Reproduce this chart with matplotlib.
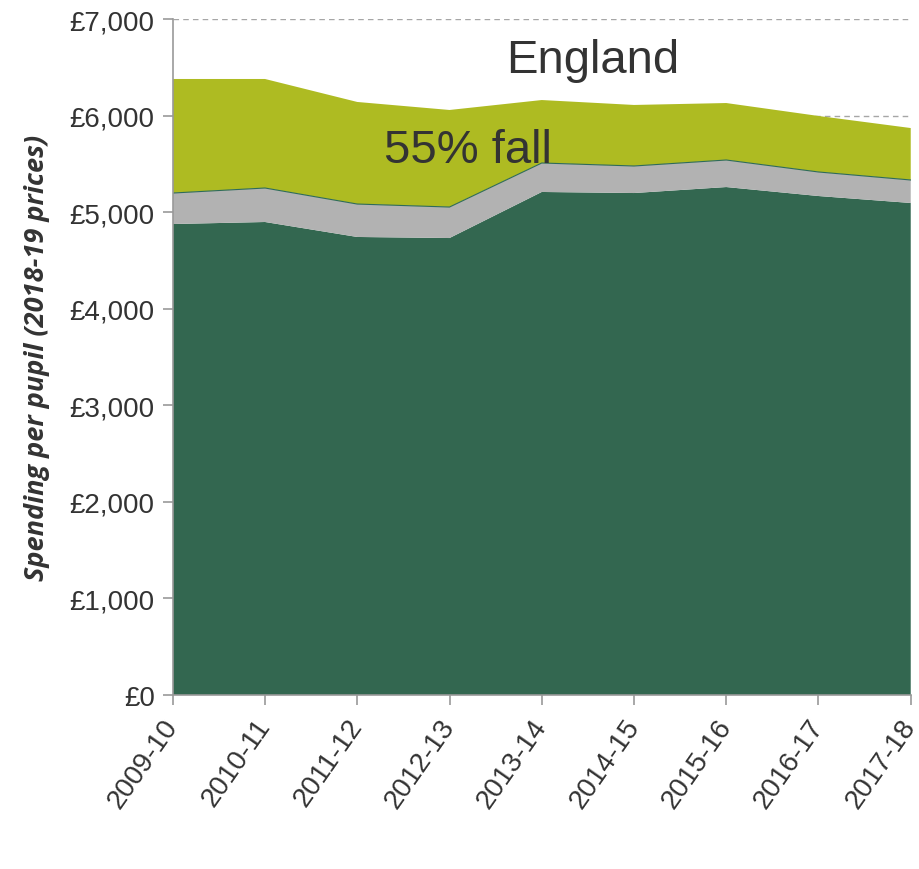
import matplotlib
matplotlib.use("Agg")
import matplotlib.pyplot as plt
import numpy as np

years = ["2009-10", "2010-11", "2011-12", "2012-13", "2013-14",
         "2014-15", "2015-16", "2016-17", "2017-18"]
core = [4877, 4898, 4743, 4732, 5209, 5198, 5260, 5167, 5095]
middle = [321, 352, 341, 321, 300, 280, 280, 249, 238]
upper = [1181, 1129, 1057, 1005, 652, 632, 590, 580, 538]

c_core = "#336750"
c_mid = "#B2B2B2"
c_up = "#AEBB22"
txt = "#333333"

plt.rcParams['font.family'] = ['Liberation Sans', 'DejaVu Sans']

fig = plt.figure(figsize=(9.19, 8.70), dpi=100)
ax = fig.add_axes([0.188, 0.2, 0.803, 0.777])

x = np.arange(len(years))
ax.set_axisbelow(True)
ax.yaxis.grid(True, linestyle=(0, (4, 3)), color="#A6A6A6", linewidth=1.0)
ax.stackplot(x, core, middle, upper, colors=[c_core, c_mid, c_up], linewidth=0)
mid_top = np.array(core) + np.array(middle)
ax.plot(x, mid_top, color="#2E6B5A", linewidth=0.8)

ax.set_xlim(0, len(years) - 1)
ax.set_ylim(0, 7000)
ax.set_yticks(range(0, 7001, 1000))
ax.set_yticklabels([f"£{v:,}" for v in range(0, 7001, 1000)])
ax.set_xticks(x)
ax.set_xticklabels(years, rotation=55, ha="right", va="center", rotation_mode="anchor")

for s in ["top", "right"]:
    ax.spines[s].set_visible(False)
for s in ["left", "bottom"]:
    ax.spines[s].set_color("#999999")
    ax.spines[s].set_linewidth(1.2)
ax.tick_params(axis="both", colors="#999999", labelcolor=txt, labelsize=20,
               length=7, width=1.2, direction="out")
ax.tick_params(axis="y", pad=6)
ax.tick_params(axis="x", pad=12)

ax.set_ylabel("Spending per pupil (2018-19 prices)", family=["Open Sans", "DejaVu Sans"],
              fontsize=19.5, fontweight="bold", fontstyle="italic", color=txt, labelpad=14)

ax.text(4.55, 6580, "England", fontsize=34, color=txt, ha="center", va="center")
ax.text(3.2, 5640, "55% fall", fontsize=34, color=txt, ha="center", va="center")

fig.savefig("out.png", dpi=100)
